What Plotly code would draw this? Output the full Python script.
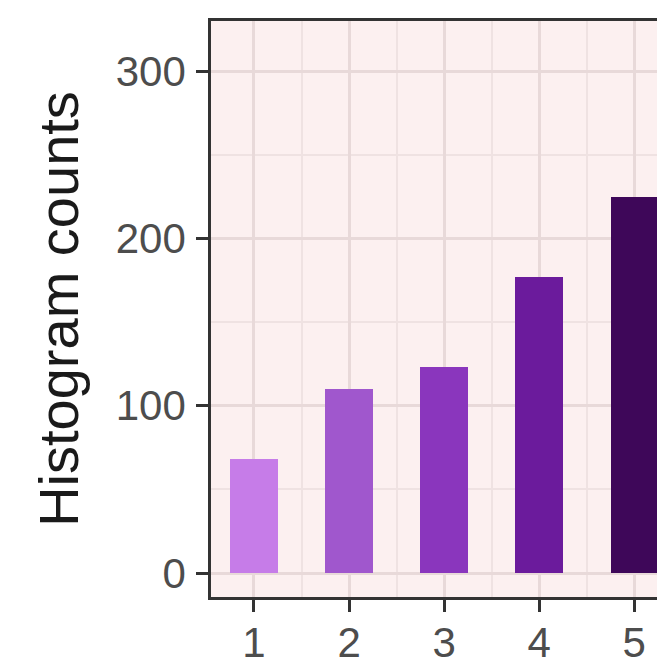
import plotly.graph_objects as go

categories = [1, 2, 3, 4, 5]
counts = [68, 110, 123, 177, 225]
bar_colors = ["#c67ce8", "#a057cd", "#8a36bd", "#6b1b9c", "#3e0759"]
y_ticks = [0, 100, 200, 300]
x_ticks = [1, 2, 3, 4, 5]

FONT = "Liberation Sans, Arial, sans-serif"

fig = go.Figure()
fig.add_trace(go.Bar(
    x=categories, y=counts, width=0.5,
    marker=dict(color=bar_colors, line=dict(width=0)),
    showlegend=False,
))

# page body has an 8px default margin, so the figure is offset to compensate
fig.update_layout(
    width=665, height=662,
    margin=dict(l=203, r=8, t=13, b=73, autoexpand=False),
    paper_bgcolor="white",
    plot_bgcolor="#fcf0f0",
    font=dict(family=FONT),
    bargap=0,
)

fig.update_xaxes(
    range=[0.548, 5.323],
    automargin=False,
    tickvals=x_ticks, ticktext=[str(v) for v in x_ticks],
    showgrid=True, gridcolor="#e8d9d9", gridwidth=2.5,
    minor=dict(tickvals=[1.5, 2.5, 3.5, 4.5], showgrid=True, gridcolor="#efe2e2", gridwidth=1.5, ticks=""),
    zeroline=False,
    showline=True, linecolor="#333333", linewidth=2.5, mirror=True,
    ticks="outside", ticklen=12, tickwidth=3, tickcolor="#333333",
    tickfont=dict(size=42, color="#4d4d4d"),
    ticklabelstandoff=-5,
)
fig.update_yaxes(
    range=[-14.3, 329.9],
    automargin=False,
    tickvals=y_ticks,
    showgrid=True, gridcolor="#e8d9d9", gridwidth=2.5,
    minor=dict(tickvals=[50, 150, 250], showgrid=True, gridcolor="#efe2e2", gridwidth=1.5, ticks=""),
    zeroline=False,
    showline=True, linecolor="#333333", linewidth=2.5, mirror=False,
    ticks="outside", ticklen=12, tickwidth=3, tickcolor="#333333",
    tickfont=dict(size=42, color="#4d4d4d"),
    ticklabelstandoff=2,
    title=dict(text="Histogram counts", font=dict(size=56, color="#1a1a1a"), standoff=20),
)

fig.write_html("out.html")
